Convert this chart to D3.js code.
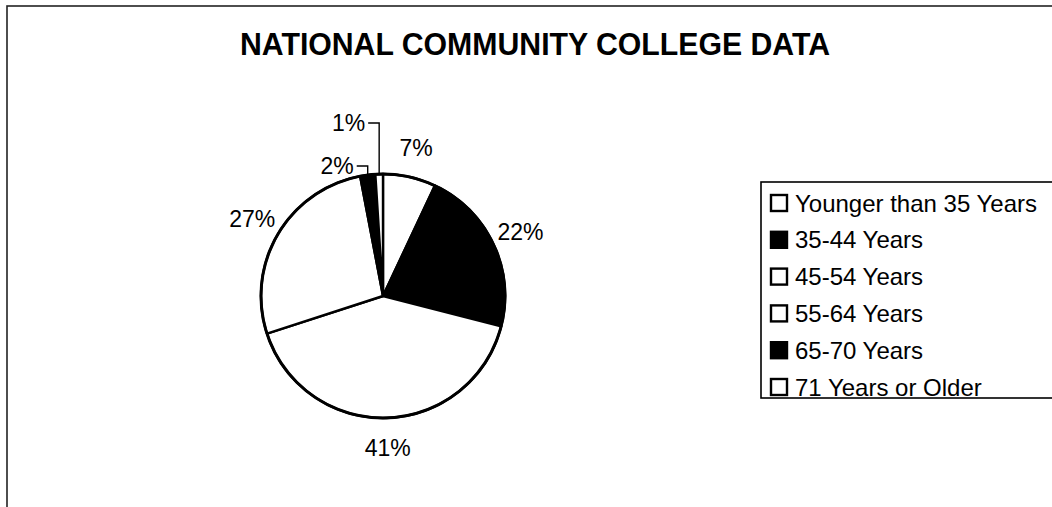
<!DOCTYPE html>
<html>
<head>
<meta charset="utf-8">
<script src="https://cdn.jsdelivr.net/npm/d3@7"></script>
<style>
    html, body { margin: 0; padding: 0; background: #fff; }
    svg { display: block; }
    text { font-family: "Liberation Sans", Arial, Helvetica, sans-serif; fill: #000; }
</style>
</head>
<body>
<svg id="chart" width="1052" height="507"></svg>
<script>
// Chart data
const categories = ["Younger than 35 Years", "35-44 Years", "45-54 Years", "55-64 Years", "65-70 Years", "71 Years or Older"];
const shares = [7, 22, 41, 27, 2, 1];
const fills = ["#fff", "#000", "#fff", "#fff", "#000", "#fff"];
const titleText = "NATIONAL COMMUNITY COLLEGE DATA";

const width = 1052, height = 507;
const cx = 383, cy = 296, radius = 122;

const svg = d3.select("#chart");

// chart area frame (runs off the right and bottom edges)
svg.append("rect")
    .attr("x", 7).attr("y", 6).attr("width", 1100).attr("height", 530)
    .attr("fill", "none").attr("stroke", "#222").attr("stroke-width", 1.6);

svg.append("text")
    .attr("x", 535).attr("y", 55)
    .attr("text-anchor", "middle")
    .attr("font-size", 31).attr("font-weight", "bold")
    .attr("textLength", 590).attr("lengthAdjust", "spacingAndGlyphs")
    .text(titleText);

// Pie
const pie = d3.pie().sort(null).value(d => d);
const arcs = pie(shares);
const arc = d3.arc().innerRadius(0).outerRadius(radius);

const g = svg.append("g").attr("transform", `translate(${cx},${cy})`);

g.selectAll("path.slice").data(arcs).join("path")
    .attr("class", "slice")
    .attr("d", arc)
    .attr("fill", (d, i) => fills[i])
    .attr("stroke", "#000")
    .attr("stroke-width", 2.4)
    .attr("stroke-linejoin", "round");

// outer rim a bit heavier
g.append("circle").attr("r", radius)
    .attr("fill", "none").attr("stroke", "#000").attr("stroke-width", 3);

// Labels: normal ones sit outside on the mid angle,
// tiny slices get a leader line going up then left
const labelR = 152;
const leaderLift = { 4: 130, 5: 173 };  // distance above centre for the tiny ones

arcs.forEach((d, i) => {
    const mid = (d.startAngle + d.endAngle) / 2;
    const label = d3.format(".0f")(d.data) + "%";
    if (leaderLift[i] !== undefined) {
        const x0 = Math.sin(mid) * radius;
        const y0 = -Math.cos(mid) * radius;
        const yTop = -leaderLift[i];
        g.append("path")
            .attr("d", `M${x0},${y0 + 1}V${yTop}H${x0 - 11}`)
            .attr("fill", "none").attr("stroke", "#000").attr("stroke-width", 1.4);
        g.append("text")
            .attr("x", x0 - 14).attr("y", yTop)
            .attr("dy", "0.36em")
            .attr("text-anchor", "end")
            .attr("font-size", 23)
            .text(label);
    } else {
        g.append("text")
            .attr("x", Math.sin(mid) * labelR)
            .attr("y", -Math.cos(mid) * labelR)
            .attr("dy", "0.36em")
            .attr("text-anchor", "middle")
            .attr("font-size", 23)
            .text(label);
    }
});

// Legend
const legend = svg.append("g").attr("transform", "translate(761,182)");
legend.append("rect")
    .attr("x", 0).attr("y", 0).attr("width", 320).attr("height", 216)
    .attr("fill", "#fff").attr("stroke", "#000").attr("stroke-width", 1.6);

const rowY = d3.scalePoint().domain(categories).range([21, 205]);

const item = legend.selectAll("g.item").data(categories).join("g")
    .attr("class", "item")
    .attr("transform", d => `translate(0,${rowY(d)})`);

item.append("rect")
    .attr("x", 10).attr("y", -8).attr("width", 16).attr("height", 16)
    .attr("fill", (d, i) => fills[i])
    .attr("stroke", "#000").attr("stroke-width", 2.4);

item.append("text")
    .attr("x", 34).attr("dy", "0.36em")
    .attr("font-size", 24)
    .text(d => d);
</script>
</body>
</html>
